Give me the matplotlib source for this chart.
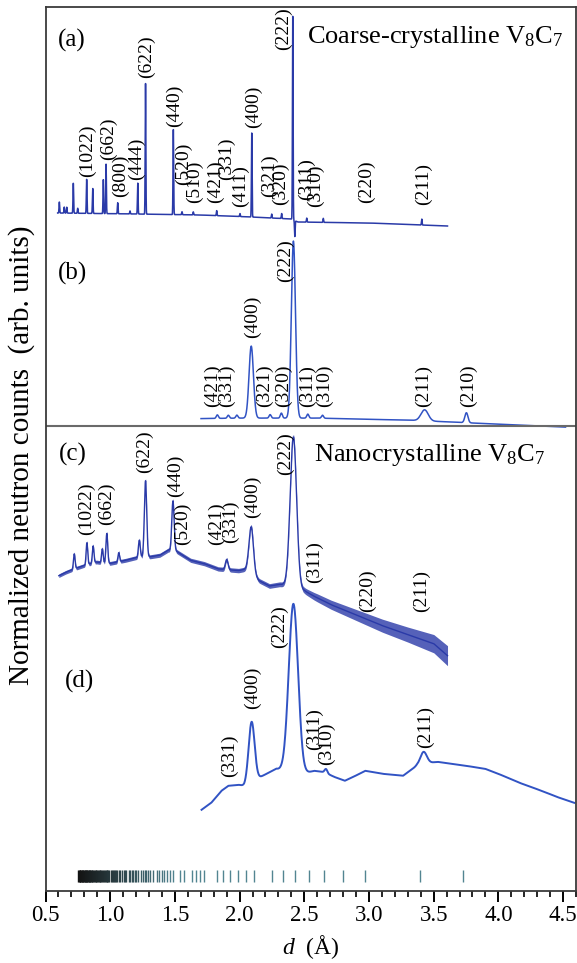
import numpy as np
import matplotlib
matplotlib.use('Agg')
from matplotlib import pyplot as plt
from matplotlib.ticker import MultipleLocator, FormatStrFormatter

# (a) coarse-crystalline V8C7, high resolution pattern
a_span = [0.594, 3.607]
a_bg_x = [0.594, 1.2, 1.7, 2.09, 2.40, 2.45, 3.0, 3.607]
a_bg_y = [0, -1, -2, -4, -6, -9, -10, -13]
a_peak_x = [0.607, 0.645, 0.664, 0.715, 0.749, 0.818, 0.865, 0.947, 0.968, 1.058, 1.153, 1.213, 1.273,
            1.488, 1.555, 1.642, 1.823, 2.003, 2.094, 2.248, 2.325, 2.411, 2.427, 2.519, 2.647, 3.408]
a_peak_h = [11, 6, 6, 30, 5, 34, 25, 34, 50, 11, 3, 31, 131,
            86, 3, 3, 5, 3, 84, 4, 5, 204, -16, 4, 4, 6]
a_peak_w = [0.0025] * 26
a_labels = ['(1022)', '(662)', '(800)', '(444)', '(622)', '(440)', '(520)', '(510)', '(421)', '(331)',
            '(411)', '(400)', '(321)', '(320)', '(222)', '(311)', '(310)', '(220)', '(211)']
a_label_x = [0.823, 0.985, 1.076, 1.205, 1.282, 1.495, 1.565, 1.655, 1.810, 1.900,
             2.003, 2.106, 2.228, 2.318, 2.338, 2.515, 2.590, 2.982, 3.420]
a_label_y = [36, 53, 16, 33, 135, 86, 28, 10, 10, 33, 6, 85, 16, 8, 163, 13, 6, 10, 8]

# (b) coarse-crystalline V8C7, second pattern
b_span = [1.702, 4.52]
b_bg_x = [1.702, 2.0, 2.6, 3.34, 3.90, 4.52]
b_bg_y = [0, 0.5, 0.5, -1.7, -5, -8.5]
b_peak_x = [1.828, 1.913, 1.979, 2.090, 2.236, 2.323, 2.416, 2.527, 2.641, 3.430, 3.753]
b_peak_h = [3.5, 3, 3, 72, 3.5, 5, 177, 4, 3, 11, 10]
b_peak_w = [0.008, 0.008, 0.008, 0.017, 0.008, 0.008, 0.016, 0.008, 0.008, 0.028, 0.012]
b_labels = ['(421)', '(331)', '(400)', '(321)', '(320)', '(222)', '(311)', '(310)', '(211)', '(210)']
b_label_x = [1.794, 1.900, 2.098, 2.191, 2.337, 2.358, 2.527, 2.654, 3.422, 3.766]
b_label_y = [12, 12, 80.5, 12, 12, 137, 12, 12, 12, 12]

# (c) nanocrystalline V8C7, high resolution pattern
c_span = [0.603, 3.607]
c_bg_x = [0.603, 0.656, 0.722, 0.801, 0.894, 0.987, 1.119, 1.199, 1.251, 1.304, 1.384, 1.450, 1.516,
          1.622, 1.728, 1.834, 1.992, 2.059, 2.152, 2.231, 2.310, 2.40, 2.46, 2.50, 2.575, 2.707,
          2.839, 3.104, 3.369, 3.501, 3.607]
c_bg_y = [0, 3.4, 6.8, 10.3, 13.7, 12, 15.4, 18, 19, 18.8, 20.5, 25.7, 24,
          15.4, 12, 6.8, 5.1, 6.8, -5.1, -10.3, -8.6, -10, -15, -15, -20.5, -29,
          -36, -50, -62, -68, -80]
c_peak_x = [0.722, 0.820, 0.868, 0.939, 0.974, 1.066, 1.225, 1.273, 1.485, 1.900, 2.090, 2.416]
c_peak_h = [15, 22, 17, 14, 30, 9, 17, 76, 50, 10, 46, 150]
c_peak_w = [0.006, 0.006, 0.006, 0.006, 0.007, 0.006, 0.007, 0.009, 0.009, 0.01, 0.017, 0.025]
# half-width of the noise band seen along the trace
c_noise_x = [0.603, 2.0, 2.45, 2.6, 3.0, 3.3, 3.607]
c_noise_hw = [1.8, 2.2, 2.5, 4, 6, 7.5, 10]
c_labels = ['(1022)', '(662)', '(622)', '(440)', '(520)', '(421)', '(331)', '(400)', '(222)',
            '(311)', '(220)', '(211)']
c_label_x = [0.815, 0.974, 1.265, 1.503, 1.556, 1.821, 1.927, 2.098, 2.358, 2.575, 2.985, 3.408]
c_label_y = [41, 51, 103, 79, 31, 31, 32.5, 58, 101, -7, -36, -36]

# (d) nanocrystalline V8C7, second pattern
d_span = [1.706, 4.586]
d_bg_x = [1.706, 1.781, 1.860, 1.913, 1.992, 2.036, 2.178, 2.284, 2.337, 2.416, 2.495, 2.575, 2.654,
          2.73, 2.813, 2.88, 2.971, 3.104, 3.263, 3.369, 3.422, 3.528, 3.634, 3.75, 3.898, 4.0,
          4.163, 4.25, 4.374, 4.45, 4.586]
d_bg_y = [0, 7, 19, 24, 25, 24, 34, 41, 39, 38, 36, 39, 37.7,
          33, 29, 33, 39, 36, 34, 44, 46, 48, 46, 44, 41, 36,
          27, 23, 17, 13, 7]
d_peak_x = [2.093, 2.416, 2.668, 3.422]
d_peak_h = [60, 168, 4, 12]
d_peak_w = [0.023, 0.036, 0.01, 0.025]
d_labels = ['(331)', '(400)', '(222)', '(311)', '(310)', '(211)']
d_label_x = [1.918, 2.098, 2.310, 2.575, 2.668, 3.435]
d_label_y = [32.5, 101, 162, 60, 44.5, 61.6]

# reflection positions (bottom bar)
refl_x = [0.755, 0.761, 0.764, 0.767, 0.770, 0.777, 0.780, 0.783, 0.787, 0.790, 0.794, 0.804, 0.808,
          0.812, 0.815, 0.819, 0.823, 0.827, 0.835, 0.839, 0.843, 0.847, 0.852, 0.856, 0.860, 0.869,
          0.874, 0.883, 0.888, 0.893, 0.898, 0.908, 0.914, 0.919, 0.924, 0.930, 0.936, 0.941, 0.953,
          0.959, 0.966, 0.972, 0.978, 0.985, 0.992, 1.006, 1.013, 1.020, 1.028, 1.035, 1.043, 1.051,
          1.068, 1.077, 1.095, 1.104, 1.113, 1.123, 1.144, 1.154, 1.165, 1.177, 1.188, 1.200, 1.212,
          1.238, 1.252, 1.266, 1.280, 1.295, 1.311, 1.327, 1.361, 1.379, 1.398, 1.418, 1.439, 1.460,
          1.483, 1.542, 1.569, 1.630, 1.662, 1.693, 1.728, 1.828, 1.873, 1.927, 1.987, 2.046, 2.111,
          2.252, 2.337, 2.429, 2.538, 2.654, 2.802, 2.967, 3.395, 3.726]

offsets = {'a': 678, 'b': 472.4, 'c': 315.3, 'd': 81.2}


def pattern(x, bg_x, bg_y, peak_x, peak_h, peak_w):
    y = np.interp(x, bg_x, bg_y)
    for c, h, w in zip(peak_x, peak_h, peak_w):
        y = y + h * np.exp(-0.5 * ((x - c) / w) ** 2)
    return y


def put_labels(ax, labels, lx, ly, off):
    for t, x, y in zip(labels, lx, ly):
        ax.text(x, off + y, t, rotation=90, ha='center', va='bottom', fontsize=14)


def main():
    plt.rcParams['font.family'] = ['Liberation Serif', 'DejaVu Serif']
    plt.rcParams['mathtext.fontset'] = 'custom'
    plt.rcParams['mathtext.rm'] = 'Liberation Serif'
    plt.rcParams['mathtext.it'] = 'Liberation Serif:italic'

    fig = plt.figure(figsize=(5.77, 9.63), dpi=100)
    ax = fig.add_axes([45.5 / 577, 72 / 963, 530.5 / 577, 884 / 963])

    dark = '#2a3aa8'
    light = '#3153c4'

    x = np.arange(a_span[0], a_span[1], 0.0008)
    ax.plot(x, offsets['a'] + pattern(x, a_bg_x, a_bg_y, a_peak_x, a_peak_h, a_peak_w), color=dark, lw=1.1)

    x = np.arange(b_span[0], b_span[1], 0.001)
    ax.plot(x, offsets['b'] + pattern(x, b_bg_x, b_bg_y, b_peak_x, b_peak_h, b_peak_w), color=light, lw=1.1)

    x = np.arange(c_span[0], c_span[1], 0.001)
    yc = offsets['c'] + pattern(x, c_bg_x, c_bg_y, c_peak_x, c_peak_h, c_peak_w)
    hw = np.interp(x, c_noise_x, c_noise_hw)
    ax.fill_between(x, yc - hw, yc + hw, color=dark, lw=0, alpha=0.8)
    ax.plot(x, yc, color=dark, lw=1.0)

    x = np.arange(d_span[0], d_span[1], 0.001)
    ax.plot(x, offsets['d'] + pattern(x, d_bg_x, d_bg_y, d_peak_x, d_peak_h, d_peak_w), color=light, lw=1.4)

    put_labels(ax, a_labels, a_label_x, a_label_y, offsets['a'])
    put_labels(ax, b_labels, b_label_x, b_label_y, offsets['b'])
    put_labels(ax, c_labels, c_label_x, c_label_y, offsets['c'])
    put_labels(ax, d_labels, d_label_x, d_label_y, offsets['d'])

    # reflection bar: black where dense, slate where sparse
    shade = np.clip((np.array(refl_x) - 0.75) / 0.75, 0, 1)
    cols = [(0.07 + 0.25 * s, 0.07 + 0.45 * s, 0.07 + 0.5 * s) for s in shade]
    ax.vlines(refl_x, 9.5, 21, colors=cols, lw=1.0)

    # divider between coarse and nano panels
    ax.axhline(465, color='#6a6a6a', lw=1.5)

    ax.text(0.703, 851, '(a)', fontsize=18, ha='center', va='center')
    ax.text(0.709, 618, '(b)', fontsize=18, ha='center', va='center')
    ax.text(0.709, 437, '(c)', fontsize=18, ha='center', va='center')
    ax.text(0.762, 210, '(d)', fontsize=18, ha='center', va='center')
    ax.text(2.518, 847.7, r'Coarse-crystalline $\mathrm{V_8C_7}$', fontsize=19, va='baseline')
    ax.text(2.575, 430, r'Nanocrystalline $\mathrm{V_8C_7}$', fontsize=19, va='baseline')

    ax.set_xlim(0.5, 4.6)
    ax.set_ylim(0, 884)
    ax.set_yticks([])
    ax.xaxis.set_major_locator(MultipleLocator(0.5))
    ax.xaxis.set_minor_locator(MultipleLocator(0.1))
    ax.xaxis.set_major_formatter(FormatStrFormatter('%.1f'))
    ax.tick_params(axis='x', which='major', direction='out', length=8, width=1.4, labelsize=16.5, pad=2)
    ax.tick_params(axis='x', which='minor', direction='out', length=4.5, width=1.2)
    for s in ax.spines.values():
        s.set_linewidth(1.3)
        s.set_color('#3a3a3a')

    fig.text(310.5 / 577, 1 - 946.7 / 963, r'$d$  (Å)', fontsize=17, ha='center', va='center')
    fig.text(21.7 / 577, 1 - 455 / 963, 'Normalized neutron counts  (arb. units)', fontsize=21,
             rotation=90, ha='center', va='center')

    fig.savefig('out.png', dpi=100)


if __name__ == '__main__':
    main()
